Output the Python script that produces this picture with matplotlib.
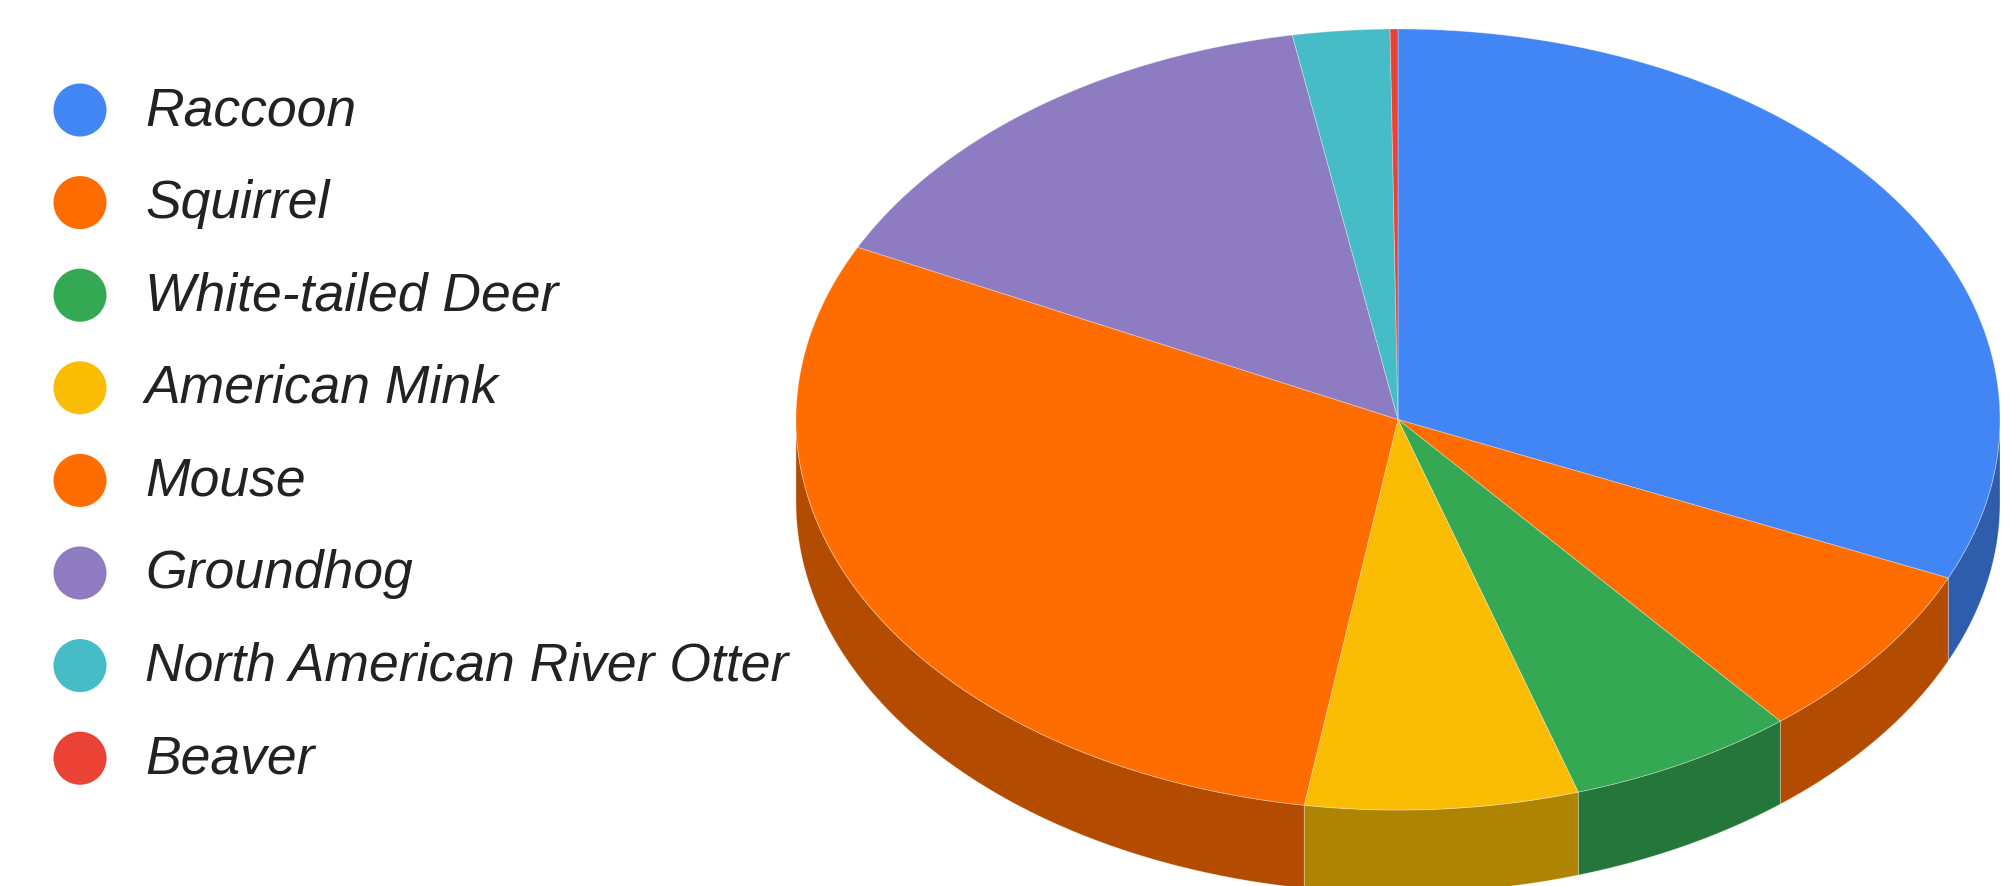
import numpy as np
import matplotlib
matplotlib.use('Agg')
import matplotlib.pyplot as plt
from matplotlib.colors import to_rgb

# animal sightings, share of total (%)
animals = ['Raccoon', 'Squirrel', 'White-tailed Deer', 'American Mink', 'Mouse',
           'Groundhog', 'North American River Otter', 'Beaver']
shares = [31.65, 7.4, 6.11, 7.33, 29.78, 14.92, 2.6, 0.21]
colors = ['#4285f4', '#ff6d01', '#34a853', '#fbbc04', '#ff6d01',
          '#8e7cc3', '#46bdc6', '#ea4335']

# pie geometry in figure pixels
cx, cy = 1398, 419.5
rx, ry = 602, 390.5
depth = 83


def rim(t):
    # t = degrees clockwise from 12 o'clock
    r = np.radians(t)
    return cx + rx * np.sin(r), cy - ry * np.cos(r)


fig = plt.figure(figsize=(20.11, 8.86), dpi=100)
ax = fig.add_axes([0, 0, 1, 1])
ax.set_xlim(0, 2011)
ax.set_ylim(886, 0)
ax.axis('off')

fracs = np.array(shares) / np.sum(shares)
edges = np.concatenate([[0], np.cumsum(fracs) * 360])

# side walls (only the front half is visible)
for i in range(len(animals)):
    a0, a1 = max(edges[i], 90), min(edges[i + 1], 270)
    if a1 <= a0:
        continue
    t = np.linspace(a0, a1, 100)
    x, y = rim(t)
    xs = np.concatenate([x, x[::-1]])
    ys = np.concatenate([y, y[::-1] + depth])
    dark = tuple(c * 0.7 for c in to_rgb(colors[i]))
    ax.fill(xs, ys, color=dark, lw=0.6, ec=(1, 1, 1, 0.35), zorder=1)

# top faces
for i in range(len(animals)):
    t = np.linspace(edges[i], edges[i + 1], 300)
    x, y = rim(t)
    xs = np.concatenate([[cx], x])
    ys = np.concatenate([[cy], y])
    ax.fill(xs, ys, color=colors[i], lw=0.6, ec=(1, 1, 1, 0.35), zorder=2)

# legend
leg_y = 110 + 92.6 * np.arange(len(animals))
ax.scatter(np.full(len(animals), 80), leg_y, s=1460, c=colors, lw=0, zorder=3)
for name, y in zip(animals, leg_y):
    ax.text(145, y + 15, name, fontsize=38.5, style='italic', color='#222222',
            family='Liberation Sans', va='baseline', ha='left')

fig.savefig('out.png', dpi=100)
